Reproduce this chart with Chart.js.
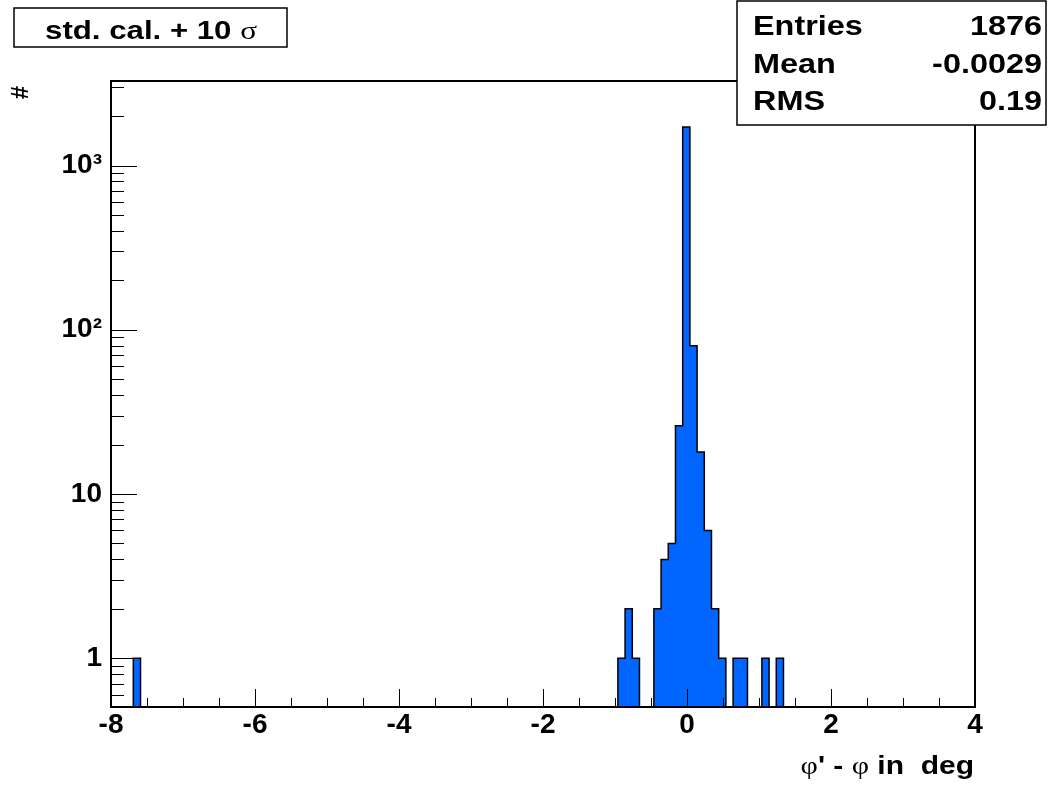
<!DOCTYPE html>
<html>
<head>
<meta charset="utf-8">
<script src="https://cdn.jsdelivr.net/npm/chart.js@4.4.0/dist/chart.umd.min.js"></script>
<style>
  body { margin: 0; background: #fff; }
  #wrap { width: 1055px; height: 786px; }
</style>
</head>
<body>
<div id="wrap"><canvas id="histo" width="1055" height="786"></canvas></div>
<script>
// histogram bins (left edge, count), bin width 0.1 deg
const binLow = [-7.69, -0.96, -0.86, -0.76, -0.46, -0.36, -0.26, -0.16, -0.06, 0.04, 0.14, 0.24, 0.34, 0.44, 0.64, 0.74, 1.04, 1.24];
const binCounts = [1, 1, 2, 1, 2, 4, 5, 26, 1716, 80, 18, 6, 2, 1, 1, 1, 1, 1];
const binWidth = 0.1;

const xTicks = [-8, -6, -4, -2, 0, 2, 4];
const yTicks = [1, 10, 100, 1000];
const yTickLabels = ['1', '10', '10\u00b2', '10\u00b3'];

const statNames = ['Entries', 'Mean', 'RMS'];
const statValues = ['1876', '-0.0029', '0.19'];

const xMin = -8, xMax = 4;
const yMin = 0.505, yMax = 3270;

const FONT = "'Liberation Sans', Arial, sans-serif";
const SYMB = "'Liberation Serif', 'DejaVu Serif', serif";
const STRETCH = 1.2; // the original font runs wider than Liberation Sans

// outline of the histogram, closed to the axis between separate runs of bins
const outline = [];
for (let i = 0; i < binLow.length; i++) {
  const lo = binLow[i], hi = lo + binWidth;
  const joinPrev = i > 0 && Math.abs(binLow[i - 1] + binWidth - lo) < 1e-6;
  const joinNext = i < binLow.length - 1 && Math.abs(hi - binLow[i + 1]) < 1e-6;
  if (!joinPrev) outline.push({x: lo, y: yMin});
  outline.push({x: lo, y: binCounts[i]});
  outline.push({x: hi, y: binCounts[i]});
  if (!joinNext) outline.push({x: hi, y: yMin});
}

// draw runs of text in mixed fonts, stretched horizontally
function drawParts(ctx, parts, x, y, align) {
  let total = 0;
  parts.forEach(p => { ctx.font = p[1]; total += ctx.measureText(p[0]).width; });
  total *= STRETCH;
  let cx = align === 'right' ? x - total : align === 'center' ? x - total / 2 : x;
  ctx.save();
  ctx.translate(cx, y);
  ctx.scale(STRETCH, 1);
  ctx.textAlign = 'left';
  let off = 0;
  parts.forEach(p => {
    ctx.font = p[1];
    ctx.fillText(p[0], off, 0);
    off += ctx.measureText(p[0]).width;
  });
  ctx.restore();
}

const rootFrame = {
  id: 'rootFrame',
  afterDatasetsDraw(chart) {
    const {ctx, chartArea: a, scales: {x, y}} = chart;
    ctx.save();
    ctx.strokeStyle = '#000';
    ctx.lineWidth = 1;
    ctx.beginPath();
    // x ticks every 0.5, long ones at the labels
    for (let v = xMin; v <= xMax + 1e-9; v += 0.5) {
      const px = Math.round(x.getPixelForValue(v)) + 0.5;
      const len = xTicks.includes(v) ? 18 : 9;
      ctx.moveTo(px, a.bottom);
      ctx.lineTo(px, a.bottom - len);
    }
    // y ticks, log decades
    for (let d = -1; d <= 3; d++) {
      for (let m = 1; m <= 9; m++) {
        const v = m * Math.pow(10, d);
        if (v < yMin || v > yMax) continue;
        const py = Math.round(y.getPixelForValue(v)) + 0.5;
        const len = m === 1 ? 26 : 13;
        ctx.moveTo(a.left, py);
        ctx.lineTo(a.left + len, py);
      }
    }
    ctx.stroke();
    ctx.lineWidth = 2;
    ctx.strokeRect(a.left, a.top, a.right - a.left, a.bottom - a.top);
    ctx.restore();
  },
  afterDraw(chart) {
    const {ctx} = chart;
    ctx.save();
    ctx.strokeStyle = '#000';
    ctx.textBaseline = 'alphabetic';

    // title box
    ctx.fillStyle = '#fff';
    ctx.fillRect(14, 8, 273, 39);
    ctx.lineWidth = 1.5;
    ctx.strokeRect(14, 8, 273, 39);
    ctx.fillStyle = '#000';
    drawParts(ctx, [['std. cal. + 10 ', 'bold 26px ' + FONT], ['\u03c3', '26px ' + SYMB]], 151, 39, 'center');

    // stats box
    ctx.fillStyle = '#fff';
    ctx.fillRect(737, 1, 309, 124);
    ctx.lineWidth = 1.5;
    ctx.strokeRect(737, 1, 309, 124);
    ctx.fillStyle = '#000';
    statNames.forEach((n, i) => {
      const by = 35 + i * 37.5;
      drawParts(ctx, [[n, 'bold 27px ' + FONT]], 753, by, 'left');
      drawParts(ctx, [[statValues[i], 'bold 27px ' + FONT]], 1042, by, 'right');
    });

    // y title
    ctx.save();
    ctx.translate(21, 86);
    ctx.rotate(-Math.PI / 2);
    ctx.textAlign = 'right';
    ctx.textBaseline = 'middle';
    ctx.font = 'bold 24px ' + FONT;
    ctx.fillText('#', 0, 0);
    ctx.restore();

    // x title
    drawParts(ctx, [
      ['\u03c6', '25px ' + SYMB],
      ["' - ", 'bold 25px ' + FONT],
      ['\u03c6', '25px ' + SYMB],
      [' in  deg', 'bold 25px ' + FONT]
    ], 974, 774, 'right');
    ctx.restore();
  }
};

new Chart(document.getElementById('histo'), {
  type: 'line',
  data: {
    datasets: [{
      data: outline,
      borderColor: '#000',
      borderWidth: 1.5,
      backgroundColor: '#0066ff',
      fill: 'start',
      pointRadius: 0,
      tension: 0
    }]
  },
  options: {
    responsive: false,
    animation: false,
    devicePixelRatio: 1,
    layout: { padding: { left: 0, top: 81, right: 80, bottom: 0 } },
    plugins: {
      legend: { display: false },
      tooltip: { enabled: false }
    },
    scales: {
      x: {
        type: 'linear',
        min: xMin,
        max: xMax,
        grid: { display: false },
        border: { display: false },
        afterBuildTicks: s => { s.ticks = xTicks.map(v => ({value: v})); },
        afterFit: s => { s.height = 79; },
        ticks: {
          color: '#000',
          padding: -7,
          maxRotation: 0,
          autoSkip: false,
          font: { family: FONT, size: 28, weight: 'bold' }
        }
      },
      y: {
        type: 'logarithmic',
        min: yMin,
        max: yMax,
        grid: { display: false },
        border: { display: false },
        afterBuildTicks: s => { s.ticks = yTicks.map(v => ({value: v})); },
        afterFit: s => { s.width = 111; },
        ticks: {
          color: '#000',
          padding: 1,
          autoSkip: false,
          font: { family: FONT, size: 28, weight: 'bold' },
          callback: v => yTickLabels[yTicks.indexOf(v)]
        }
      }
    }
  },
  plugins: [rootFrame]
});
</script>
</body>
</html>
